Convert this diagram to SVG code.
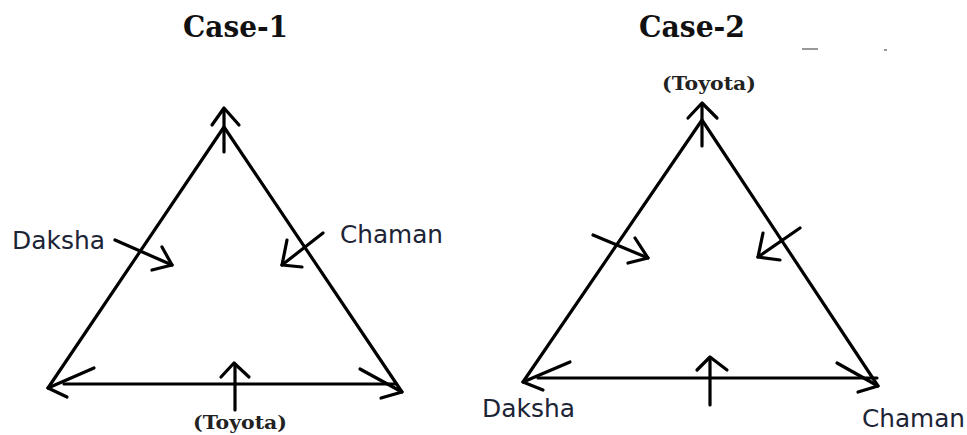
<svg xmlns="http://www.w3.org/2000/svg" width="967" height="435" viewBox="0 0 967 435">
<style>
.ln{fill:none;stroke:#000;stroke-width:3.2;stroke-linecap:round;stroke-linejoin:round}
.title{font-family:"DejaVu Serif","Liberation Serif",serif;font-weight:bold;font-size:29px;fill:#111}
.toy{font-family:"DejaVu Serif","Liberation Serif",serif;font-weight:bold;font-size:19px;fill:#222}
.name{font-family:"DejaVu Sans","Noto Sans",sans-serif;font-size:25px;fill:#1c2436}
.spk{fill:none;stroke:#999;stroke-width:2}
</style>
<rect width="967" height="435" fill="#fff"/>
<g id="case1-title"><text class="title" x="183" y="37" textLength="105" lengthAdjust="spacingAndGlyphs">Case-1</text></g>
<g id="case2-title"><text class="title" x="639" y="37" textLength="106" lengthAdjust="spacingAndGlyphs">Case-2</text></g>
<g id="case1-daksha"><text class="name" x="12" y="249" textLength="93" lengthAdjust="spacingAndGlyphs">Daksha</text></g>
<g id="case1-chaman"><text class="name" x="340" y="243" textLength="103" lengthAdjust="spacingAndGlyphs">Chaman</text></g>
<g id="case1-toyota"><text class="toy" x="193" y="429" textLength="94" lengthAdjust="spacingAndGlyphs">(Toyota)</text></g>
<g id="case2-toyota"><text class="toy" x="662" y="90" textLength="94" lengthAdjust="spacingAndGlyphs">(Toyota)</text></g>
<g id="case2-daksha"><text class="name" x="482" y="417" textLength="93" lengthAdjust="spacingAndGlyphs">Daksha</text></g>
<g id="case2-chaman"><text class="name" x="862" y="427" textLength="103" lengthAdjust="spacingAndGlyphs">Chaman</text></g>
<g id="connectors">
<polyline class="ln" points="48,388 224,127 402,392"/>
<line class="ln" x1="64" y1="384" x2="395" y2="384"/>
<polyline class="ln" points="94,368 48,388 67,397"/>
<polyline class="ln" points="360,369 402,392 381,398"/>
<line class="ln" x1="224" y1="152" x2="224" y2="110"/>
<polyline class="ln" points="212,125 224,108 239,125"/>
<line class="ln" x1="235" y1="410" x2="235" y2="364"/>
<polyline class="ln" points="221,377 234,363 249,377"/>
<line class="ln" x1="115" y1="240" x2="172" y2="265"/>
<polyline class="ln" points="162,247 172,265 152,270"/>
<line class="ln" x1="323" y1="233" x2="282" y2="265"/>
<polyline class="ln" points="287,240 282,265 302,267"/>
<polyline class="ln" points="523,382 702,120 878,386"/>
<line class="ln" x1="538" y1="378" x2="877" y2="378"/>
<polyline class="ln" points="570,362 523,382 543,390"/>
<polyline class="ln" points="837,363 878,386 858,392"/>
<line class="ln" x1="702" y1="146" x2="702" y2="105"/>
<polyline class="ln" points="688,118 702,103 717,118"/>
<line class="ln" x1="710" y1="405" x2="710" y2="358"/>
<polyline class="ln" points="697,370 710,357 727,370"/>
<line class="ln" x1="593" y1="235" x2="648" y2="258"/>
<polyline class="ln" points="635,238 648,258 628,263"/>
<line class="ln" x1="800" y1="228" x2="758" y2="257"/>
<polyline class="ln" points="763,233 758,257 780,260"/>
</g>
<line class="spk" x1="802" y1="49" x2="818" y2="49"/>
<line class="spk" x1="884" y1="50" x2="887" y2="50"/>
</svg>
